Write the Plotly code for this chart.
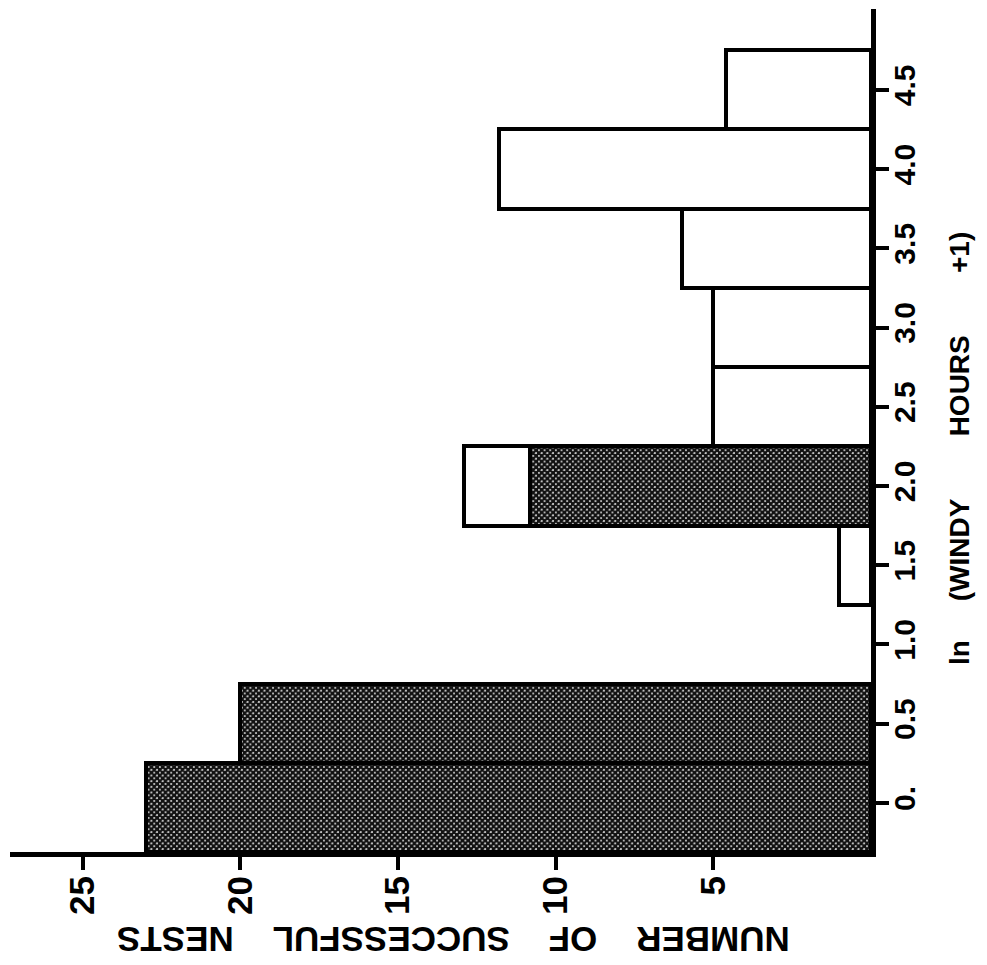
import plotly.graph_objects as go

# ln(windy hours + 1) class midpoints and the number of successful nests
shaded_classes = [0.0, 0.5, 2.0]
shaded_counts = [23, 20, 10.8]

open_classes = [1.5, 2.0, 2.5, 3.0, 3.5, 4.0, 4.5]
open_counts = [1, 2.1, 5, 5, 6, 11.8, 4.6]

count_ticks = [5, 10, 15, 20, 25]
class_ticks = [0.0, 0.5, 1.0, 1.5, 2.0, 2.5, 3.0, 3.5, 4.0, 4.5]
class_tick_text = ["0.", "0.5", "1.0", "1.5", "2.0", "2.5", "3.0", "3.5", "4.0", "4.5"]

FONT = "Liberation Sans, Arial, sans-serif"
NB = "\u00a0"

fig = go.Figure()

fig.add_trace(go.Bar(
    y=shaded_classes,
    x=shaded_counts,
    orientation="h",
    width=[0.56, 0.5, 0.5],
    offset=[-0.31, -0.25, -0.25],
    marker=dict(
        color="white",
        line=dict(color="black", width=4.5),
        pattern=dict(shape="x", size=4, solidity=0.85, fgcolor="#111111",
                     bgcolor="#ffffff", fillmode="replace"),
    ),
    showlegend=False,
))

fig.add_trace(go.Bar(
    y=open_classes,
    x=open_counts,
    orientation="h",
    width=0.5,
    marker=dict(color="white", line=dict(color="black", width=4.5)),
    showlegend=False,
))

fig.update_layout(
    width=987,
    height=965,
    barmode="stack",
    bargap=0,
    paper_bgcolor="white",
    plot_bgcolor="white",
    margin=dict(l=10, r=116, t=9, b=113),
    font=dict(family=FONT, color="black"),
    xaxis=dict(
        range=[27.3, 0],
        tickvals=count_ticks,
        tickangle=-90,
        tickfont=dict(family=FONT, size=35, color="black", weight="bold"),
        ticks="outside",
        ticklen=13,
        tickwidth=4,
        tickcolor="black",
        ticklabelstandoff=-8,
        showline=True,
        linewidth=5,
        linecolor="black",
        showgrid=False,
        zeroline=False,
    ),
    yaxis=dict(
        side="right",
        range=[-0.31, 5.01],
        tickvals=class_ticks,
        ticktext=class_tick_text,
        tickangle=-90,
        tickfont=dict(family=FONT, size=30, color="black", weight="bold"),
        ticks="outside",
        ticklen=13,
        tickwidth=4,
        tickcolor="black",
        ticklabelstandoff=-10,
        showline=True,
        linewidth=5,
        linecolor="black",
        showgrid=False,
        zeroline=False,
    ),
    annotations=[
        dict(
            text=f"ln{NB*5}(WINDY{NB*8}HOURS{NB*8}+1)",
            xref="paper", yref="paper",
            x=1.102, y=0.479,
            xanchor="center", yanchor="middle",
            textangle=-90,
            showarrow=False,
            font=dict(family=FONT, size=28, color="black", weight="bold"),
        ),
        dict(
            text=f"NUMBER{NB*4}OF{NB*4}SUCCESSFUL{NB*4}NESTS",
            xref="paper", yref="paper",
            x=0.515, y=-0.104,
            xanchor="center", yanchor="middle",
            textangle=180,
            showarrow=False,
            font=dict(family=FONT, size=35, color="black", weight="bold"),
        ),
    ],
)

fig.write_html("out.html")
